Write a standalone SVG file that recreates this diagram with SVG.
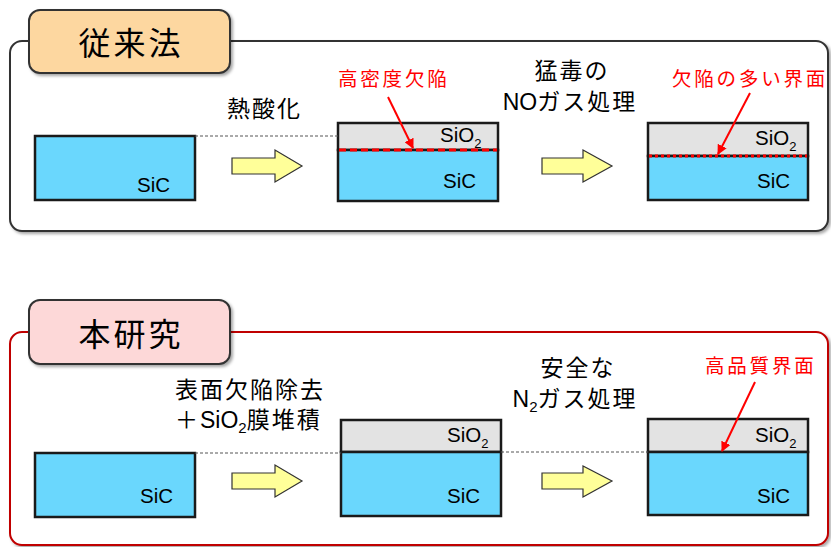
<svg xmlns="http://www.w3.org/2000/svg" width="831" height="547" viewBox="0 0 831 547">
<defs>
<filter id="sh" x="-5%" y="-5%" width="115%" height="120%">
<feDropShadow dx="2" dy="2" stdDeviation="1.5" flood-color="#000" flood-opacity="0.35"/>
</filter>
<marker id="ra" viewBox="0 0 10 10" refX="9" refY="5" markerWidth="5" markerHeight="5" orient="auto" markerUnits="strokeWidth">
<path d="M0,0 L10,5 L0,10 Z" fill="#FF0000"/>
</marker>
</defs>
<style>
.panel{fill:#FFFFFF;stroke-width:2;filter:url(#sh)}
.tab{stroke:#333333;stroke-width:2;filter:url(#sh)}
.tabt{font-family:"Noto Sans CJK JP",sans-serif;font-size:32px;letter-spacing:3px;fill:#000;text-anchor:middle}
.sic{fill:#6AD7FD;stroke:#1A1A1A;stroke-width:2.5}
.sio{fill:#E3E3E3;stroke:#1A1A1A;stroke-width:2.5}
.lbl{font-family:"Liberation Sans",Arial,sans-serif;font-size:20.5px;fill:#000}
.sub{font-size:13px}
.cap{font-family:"Liberation Sans","Noto Sans CJK JP",sans-serif;font-size:23px;letter-spacing:2px;fill:#000}
.lat{letter-spacing:0}
.red{font-family:"Noto Sans CJK JP",sans-serif;font-size:19.5px;letter-spacing:2.8px;fill:#FF0000}
.guide{stroke:#555;stroke-width:1;stroke-dasharray:3 2;fill:none}
.yarrow{fill:#FFFF99;stroke:#333;stroke-width:1.2}
.rline{stroke:#FF0000;stroke-width:2;fill:none;marker-end:url(#ra)}
</style>

<g id="panel-conventional">
<rect class="panel" x="10" y="41" width="818" height="190" rx="12" stroke="#333333"/>
</g>
<g id="tab-conventional">
<rect class="tab" x="29" y="10" width="201" height="63" rx="11" fill="#FDD7A0"/>
<text class="tabt" x="131" y="55">従来法</text>
</g>

<g id="panel-this-study">
<rect class="panel" x="10" y="332" width="818" height="213" rx="12" stroke="#C00000"/>
</g>
<g id="tab-this-study">
<rect class="tab" x="29" y="300" width="201" height="64" rx="11" fill="#FDD8D8"/>
<text class="tabt" x="131" y="346">本研究</text>
</g>

<g id="top-sic">
<rect class="sic" x="35" y="136" width="160" height="64"/>
<text class="lbl" x="137" y="192">SiC</text>
</g>
<g id="top-oxidized">
<rect class="sio" x="338" y="123" width="160" height="27"/>
<rect class="sic" x="338" y="150" width="160" height="51"/>
<line x1="339" y1="150" x2="497" y2="150" stroke="#FF0000" stroke-width="3" stroke-dasharray="7 4"/>
<text class="lbl" x="440" y="142">SiO<tspan class="sub" dy="6">2</tspan></text>
<text class="lbl" x="443" y="188">SiC</text>
</g>
<g id="top-no">
<rect class="sio" x="648" y="123" width="160" height="33"/>
<rect class="sic" x="648" y="156" width="160" height="44"/>
<line x1="649" y1="156" x2="807" y2="156" stroke="#FF0000" stroke-width="3" stroke-dasharray="3 3"/>
<text class="lbl" x="755" y="145">SiO<tspan class="sub" dy="6">2</tspan></text>
<text class="lbl" x="757" y="188">SiC</text>
</g>

<g id="bottom-sic">
<rect class="sic" x="35" y="453" width="160" height="64"/>
<text class="lbl" x="140" y="503">SiC</text>
</g>
<g id="bottom-deposited">
<rect class="sio" x="341" y="420" width="160" height="32"/>
<rect class="sic" x="341" y="452" width="160" height="64"/>
<text class="lbl" x="447" y="442">SiO<tspan class="sub" dy="6">2</tspan></text>
<text class="lbl" x="447" y="503">SiC</text>
</g>
<g id="bottom-n2">
<rect class="sio" x="648" y="419" width="160" height="33"/>
<rect class="sic" x="648" y="452" width="160" height="63"/>
<text class="lbl" x="755" y="442">SiO<tspan class="sub" dy="6">2</tspan></text>
<text class="lbl" x="757" y="503">SiC</text>
</g>

<g id="step-labels">
<text class="cap" x="227" y="117">熱酸化</text>
<text class="cap" x="572" y="79" text-anchor="middle">猛毒の</text>
<text class="cap" x="570" y="110" text-anchor="middle"><tspan class="lat">NO</tspan>ガス処理</text>
<text class="cap" x="175" y="398" letter-spacing="3">表面欠陥除去</text>
<text class="cap" x="175" y="428" letter-spacing="3">＋<tspan class="lat">SiO</tspan><tspan class="lat" font-size="15" dy="5">2</tspan><tspan dy="-5">膜堆積</tspan></text>
<text class="cap" x="578" y="376" text-anchor="middle">安全な</text>
<text class="cap" x="575" y="407" text-anchor="middle"><tspan class="lat">N</tspan><tspan class="lat" font-size="15" dy="5">2</tspan><tspan dy="-5">ガス処理</tspan></text>
<text class="red" x="338" y="86">高密度欠陥</text>
<text class="red" x="672" y="86">欠陥の多い界面</text>
<text class="red" x="705" y="373">高品質界面</text>
</g>

<g id="connectors">
<line class="guide" x1="195" y1="136" x2="338" y2="136"/>
<line class="guide" x1="195" y1="453" x2="341" y2="453"/>
<line class="guide" x1="501" y1="452" x2="648" y2="452"/>
<path class="yarrow" d="M232,158 H275 V150 L302,166 L275,182 V174 H232 Z"/>
<path class="yarrow" d="M542,158 H583 V150 L612,166 L583,182 V174 H542 Z"/>
<path class="yarrow" d="M232,473 H275 V465 L302,481 L275,497 V489 H232 Z"/>
<path class="yarrow" d="M542,473 H583 V466 L612,481 L583,497 V489 H542 Z"/>
<line class="rline" x1="388" y1="97" x2="413" y2="148"/>
<line class="rline" x1="750" y1="93" x2="718" y2="154"/>
<line class="rline" x1="755" y1="382" x2="722" y2="451"/>
</g>
</svg>
